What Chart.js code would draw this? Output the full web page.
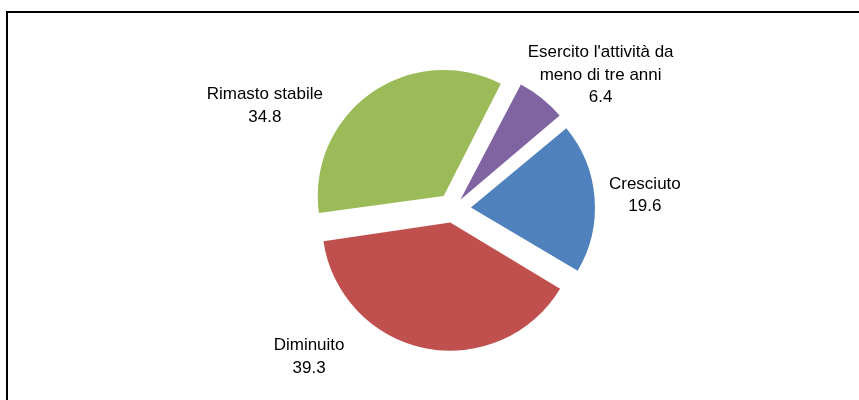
<!DOCTYPE html>
<html>
<head>
<meta charset="utf-8">
<script src="https://cdn.jsdelivr.net/npm/chart.js@4.4.1/dist/chart.umd.min.js"></script>
<style>
  html, body { margin: 0; padding: 0; background: #fff; }
  #wrap { width: 859px; height: 400px; }
</style>
</head>
<body>
<div id="wrap"><canvas id="myChart" width="859" height="400"></canvas></div>
<script>
// data
var categories = ["Cresciuto", "Diminuito", "Rimasto stabile", "Esercito l'attività da meno di tre anni"];
var labelLines = [["Cresciuto"], ["Diminuito"], ["Rimasto stabile"], ["Esercito l'attività da", "meno di tre anni"]];
var values = [19.6, 39.3, 34.8, 6.4];
var colors = ["#4F81BD", "#C0504D", "#9BBB59", "#8064A2"];

// where each label sits, relative to the pie centre, in pie radii
var labelPos = [[1.56, -0.11], [-1.17, 1.20], [-1.53, -0.84], [1.20, -1.09]];

var explode = 76; // wanted shift of every slice = explode / 4
var total = values.reduce(function (a, b) { return a + b; }, 0);

// chart.js adds an extra shift for thin slices, so even it out
function sliceOffset(ctx) {
    var circ = values[ctx.dataIndex] / total * 2 * Math.PI;
    var fix = 1 - Math.sin(Math.min(Math.PI, circ));
    return explode / (1 + fix);
}

var framePlugin = {
    id: 'frame',
    beforeDraw: function (chart) {
        var c = chart.ctx;
        c.save();
        c.fillStyle = '#000';
        c.fillRect(6, 11, chart.width, 2);
        c.fillRect(6, 11, 2, chart.height);
        c.restore();
    }
};

var labelPlugin = {
    id: 'sliceLabels',
    afterDraw: function (chart) {
        var c = chart.ctx;
        var meta = chart.getDatasetMeta(0);
        c.save();
        c.fillStyle = '#000';
        c.font = '17px "Liberation Sans", Arial, sans-serif';
        c.textAlign = 'center';
        c.textBaseline = 'middle';
        meta.data.forEach(function (arc, i) {
            var r = arc.outerRadius;
            var cx = arc.x + labelPos[i][0] * r;
            var cy = arc.y + labelPos[i][1] * r;
            var lines = labelLines[i].concat([values[i].toFixed(1)]);
            var lh = 22.5;
            lines.forEach(function (t, j) {
                c.fillText(t, cx, cy + (j - (lines.length - 1) / 2) * lh);
            });
        });
        c.restore();
    }
};

var ctx = document.getElementById("myChart");
window.myPie = new Chart(ctx, {
    type: 'pie',
    data: {
        labels: categories,
        datasets: [{
            data: values,
            backgroundColor: colors,
            borderWidth: 0,
            offset: sliceOffset
        }]
    },
    options: {
        responsive: false,
        animation: false,
        events: [],
        rotation: 50.2,
        radius: 123,
        layout: { padding: { left: 47, right: 0, top: 18, bottom: 0 } },
        plugins: {
            legend: { display: false },
            tooltip: { enabled: false }
        }
    },
    plugins: [framePlugin, labelPlugin]
});
</script>
</body>
</html>
